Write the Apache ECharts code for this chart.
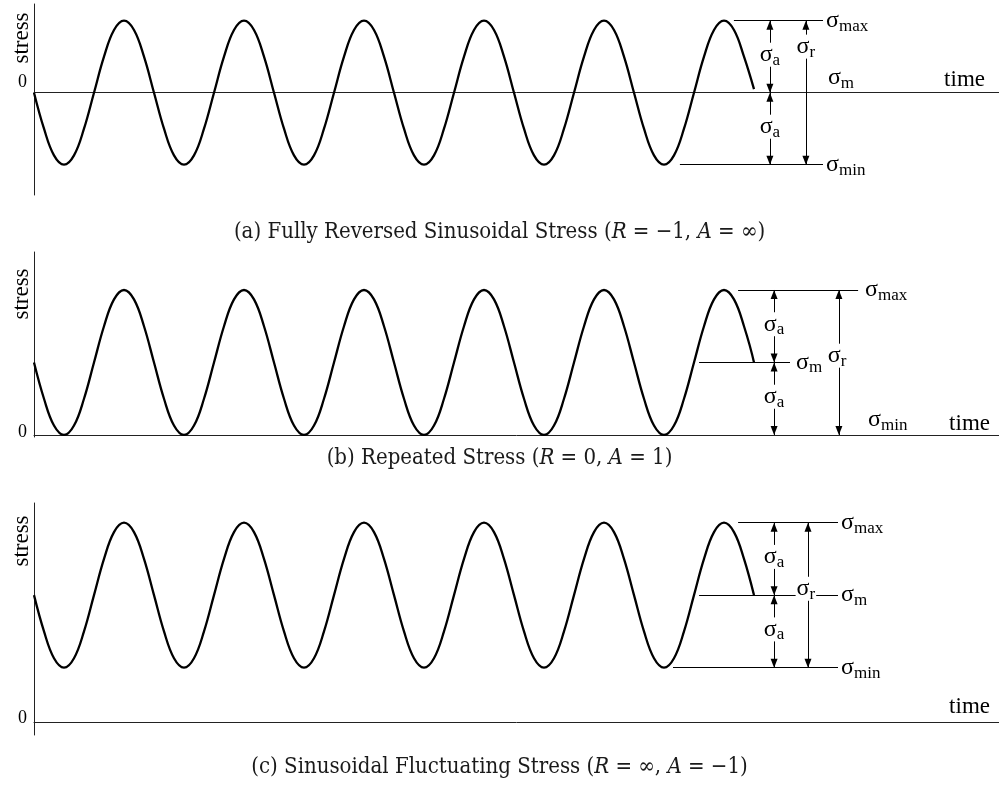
<!DOCTYPE html>
<html>
<head>
<meta charset="utf-8">
<title>Cyclic stress histories</title>
<script src="https://cdn.jsdelivr.net/npm/echarts@6/dist/echarts.min.js"></script>
<style>
  html, body { margin: 0; padding: 0; background: #fff; }
  #chart { width: 999px; height: 785px; }
</style>
</head>
<body>
<div id="chart"></div>
<script>
// Stress histories in units of the stress amplitude (sigma_a),
// sampled every 1/12 of a cycle; the time axis has 4 units per cycle.
const SAMPLE_STEP = 1 / 3;

const stressReversed = [
  0, -0.5, -0.87, -1, -0.87, -0.5, 0, 0.5, 0.87, 1, 0.87, 0.5,
  0, -0.5, -0.87, -1, -0.87, -0.5, 0, 0.5, 0.87, 1, 0.87, 0.5,
  0, -0.5, -0.87, -1, -0.87, -0.5, 0, 0.5, 0.87, 1, 0.87, 0.5,
  0, -0.5, -0.87, -1, -0.87, -0.5, 0, 0.5, 0.87, 1, 0.87, 0.5,
  0, -0.5, -0.87, -1, -0.87, -0.5, 0, 0.5, 0.87, 1, 0.87, 0.5,
  0, -0.5, -0.87, -1, -0.87, -0.5, 0, 0.5, 0.87, 1, 0.87, 0.5,
  0.05
];

const stressRepeated = [
  1, 0.5, 0.13, 0, 0.13, 0.5, 1, 1.5, 1.87, 2, 1.87, 1.5,
  1, 0.5, 0.13, 0, 0.13, 0.5, 1, 1.5, 1.87, 2, 1.87, 1.5,
  1, 0.5, 0.13, 0, 0.13, 0.5, 1, 1.5, 1.87, 2, 1.87, 1.5,
  1, 0.5, 0.13, 0, 0.13, 0.5, 1, 1.5, 1.87, 2, 1.87, 1.5,
  1, 0.5, 0.13, 0, 0.13, 0.5, 1, 1.5, 1.87, 2, 1.87, 1.5,
  1, 0.5, 0.13, 0, 0.13, 0.5, 1, 1.5, 1.87, 2, 1.87, 1.5,
  1
];

const stressFluctuating = [
  1.75, 1.25, 0.88, 0.75, 0.88, 1.25, 1.75, 2.25, 2.62, 2.75, 2.62, 2.25,
  1.75, 1.25, 0.88, 0.75, 0.88, 1.25, 1.75, 2.25, 2.62, 2.75, 2.62, 2.25,
  1.75, 1.25, 0.88, 0.75, 0.88, 1.25, 1.75, 2.25, 2.62, 2.75, 2.62, 2.25,
  1.75, 1.25, 0.88, 0.75, 0.88, 1.25, 1.75, 2.25, 2.62, 2.75, 2.62, 2.25,
  1.75, 1.25, 0.88, 0.75, 0.88, 1.25, 1.75, 2.25, 2.62, 2.75, 2.62, 2.25,
  1.75, 1.25, 0.88, 0.75, 0.88, 1.25, 1.75, 2.25, 2.62, 2.75, 2.62, 2.25,
  1.75
];

// [sigma_max, sigma_m, sigma_min] for each history
const levelsReversed = [1, 0, -1];
const levelsRepeated = [2, 1, 0];
const levelsFluctuating = [2.75, 1.75, 0.75];

const captions = [
  '(a) Fully Reversed Sinusoidal Stress ({i|R} = −1, {i|A} = ∞)',
  '(b) Repeated Stress ({i|R} = 0, {i|A} = 1)',
  '(c) Sinusoidal Fluctuating Stress ({i|R} = ∞, {i|A} = −1)'
];

const SERIF = '"Liberation Serif", "Times New Roman", serif';
const CAPTION_FONT = '"DejaVu Serif Condensed", "DejaVu Serif", serif';
const TIME_MAX = 965 / 30;

const sigmaRich = {
  s: { fontFamily: SERIF, fontSize: 24, lineHeight: 24, verticalAlign: 'top', color: '#000' },
  b: { fontFamily: SERIF, fontSize: 17, lineHeight: 17, verticalAlign: 'top', padding: [9, 0, 0, 0], color: '#000' }
};
const sig = sub => '{s|σ}{b|' + sub + '}';

const head = { symbol: 'triangle', symbolSize: [7, 9], symbolOffset: [0, 4.5] };
const arrow = (t, y0, y1) => [
  Object.assign({ coord: [t, y0] }, head),
  Object.assign({ coord: [t, y1] }, head)
];
const levelLine = (t0, t1, y, sub, dist) => [
  { coord: [t0, y] },
  { coord: [t1, y], label: { show: true, position: 'end', distance: dist, formatter: sig(sub), rich: sigmaRich } }
];
const tag = (t, y, sub, extra) => ({
  coord: [t, y],
  label: Object.assign({
    show: true, position: 'inside', formatter: sig(sub), rich: sigmaRich,
    backgroundColor: '#fff', padding: [0, 1], offset: [0, -2]
  }, extra || {})
});
const sideTag = (t, y, sub) => tag(t, y, sub, {
  align: 'left', verticalAlign: 'bottom', backgroundColor: 'transparent', offset: [0, -3]
});

// Layout of each panel: grid placement and where the annotations sit
const panels = [
  {
    curve: stressReversed, levels: levelsReversed,
    top: 4, height: 191, yMin: -1.421, yMax: 1.232,
    stressGap: -34, zeroLift: 10, timeGap: -14, timePad: 1, captionTop: 219,
    build([mx, m, mn]) {
      return {
        lines: [
          levelLine(23.33, 26.3, mx, 'max', 3),
          levelLine(21.53, 26.3, mn, 'min', 3),
          arrow(24.53, mx, m), arrow(24.53, m, mn), arrow(25.73, mx, mn)
        ],
        tags: [
          tag(24.53, (mx + m) / 2, 'a'),
          tag(24.53, (m + mn) / 2, 'a'),
          tag(25.73, mx - 0.18 * (mx - mn), 'r', { offset: [0, 0] }),
          sideTag(26.43, m, 'm')
        ]
      };
    }
  },
  {
    curve: stressRepeated, levels: levelsRepeated,
    top: 252, height: 185, yMin: -0.028, yMax: 2.524,
    stressGap: -42, zeroLift: 3, timeGap: -9, timePad: 0, captionTop: 445,
    build([mx, m, mn]) {
      return {
        lines: [
          levelLine(23.47, 27.47, mx, 'max', 7),
          levelLine(22.17, 25.2, m, 'm', 6),
          arrow(24.67, mx, m), arrow(24.67, m, mn), arrow(26.83, mx, mn)
        ],
        tags: [
          tag(24.67, (mx + m) / 2, 'a'),
          tag(24.67, (m + mn) / 2, 'a'),
          tag(26.77, mx - 0.46 * (mx - mn), 'r', { offset: [0, -1] }),
          sideTag(27.77, mn, 'min')
        ]
      };
    }
  },
  {
    curve: stressFluctuating, levels: levelsFluctuating,
    top: 503, height: 232, yMin: -0.179, yMax: 3.021,
    stressGap: -38, zeroLift: 4, timeGap: -9, timePad: 4, captionTop: 754,
    build([mx, m, mn]) {
      return {
        lines: [
          levelLine(23.47, 26.8, mx, 'max', 3),
          levelLine(22.17, 26.8, m, 'm', 3),
          levelLine(21.3, 26.8, mn, 'min', 3),
          arrow(24.67, mx, m), arrow(24.67, m, mn), arrow(25.8, mx, mn)
        ],
        tags: [
          tag(24.67, (mx + m) / 2, 'a'),
          tag(24.67, (m + mn) / 2, 'a'),
          tag(25.73, mx - 0.456 * (mx - mn), 'r', { offset: [0, 0] })
        ]
      };
    }
  }
];

const axisColor = '#222';

const option = {
  animation: false,
  backgroundColor: '#fff',
  title: captions.map((text, i) => ({
    text,
    left: 'center',
    top: panels[i].captionTop,
    padding: 0,
    textStyle: {
      fontFamily: CAPTION_FONT, fontSize: 22, fontWeight: 'normal', color: '#1a1a1a', lineHeight: 26,
      rich: { i: { fontFamily: CAPTION_FONT, fontStyle: 'italic', fontSize: 22, color: '#1a1a1a', lineHeight: 26 } }
    }
  })),
  grid: panels.map(p => ({
    left: 34, width: 965, top: p.top, height: p.height, outerBoundsMode: 'none', containLabel: false
  })),
  xAxis: panels.map((p, i) => ({
    gridIndex: i, type: 'value', min: 0, max: TIME_MAX,
    axisLine: { onZero: true, lineStyle: { color: axisColor, width: 1 } },
    axisTick: { show: false }, axisLabel: { show: false }, splitLine: { show: false },
    name: 'time', nameLocation: 'end', nameGap: p.timeGap,
    nameTextStyle: {
      fontFamily: SERIF, fontSize: 23, color: '#000',
      align: 'right', verticalAlign: 'bottom', padding: [0, 0, p.timePad, 0]
    }
  })),
  yAxis: panels.map((p, i) => ({
    gridIndex: i, type: 'value', min: p.yMin, max: p.yMax,
    axisLine: { show: true, onZero: false, lineStyle: { color: axisColor, width: 1 } },
    axisTick: { show: false }, splitLine: { show: false },
    axisLabel: {
      customValues: [0], fontFamily: SERIF, fontSize: 18, color: '#000', margin: 7,
      verticalAlign: 'bottom', lineHeight: p.zeroLift * 2
    },
    name: 'stress', nameLocation: 'end', nameRotate: 90, nameGap: p.stressGap,
    nameTextStyle: {
      fontFamily: SERIF, fontSize: 23, color: '#000',
      align: 'center', verticalAlign: 'bottom', padding: [0, 0, 1, 0]
    }
  })),
  series: panels.map((p, i) => {
    const ann = p.build(p.levels);
    return {
      type: 'line', xAxisIndex: i, yAxisIndex: i, silent: true,
      data: p.curve.map((v, k) => [k * SAMPLE_STEP, v]),
      smooth: 0.4, showSymbol: false, symbol: 'none',
      lineStyle: { color: '#000', width: 2.3 },
      markLine: {
        silent: true, z: 4, symbol: ['none', 'none'],
        lineStyle: { color: '#000', width: 1, type: 'solid' },
        label: { show: false }, emphasis: { disabled: true },
        data: ann.lines
      },
      markPoint: {
        silent: true, z: 6, symbol: 'rect', symbolSize: 1,
        itemStyle: { color: 'rgba(0,0,0,0)' }, emphasis: { disabled: true },
        data: ann.tags
      }
    };
  })
};

const chart = echarts.init(document.getElementById('chart'), null, { renderer: 'canvas' });
chart.setOption(option);
</script>
</body>
</html>
